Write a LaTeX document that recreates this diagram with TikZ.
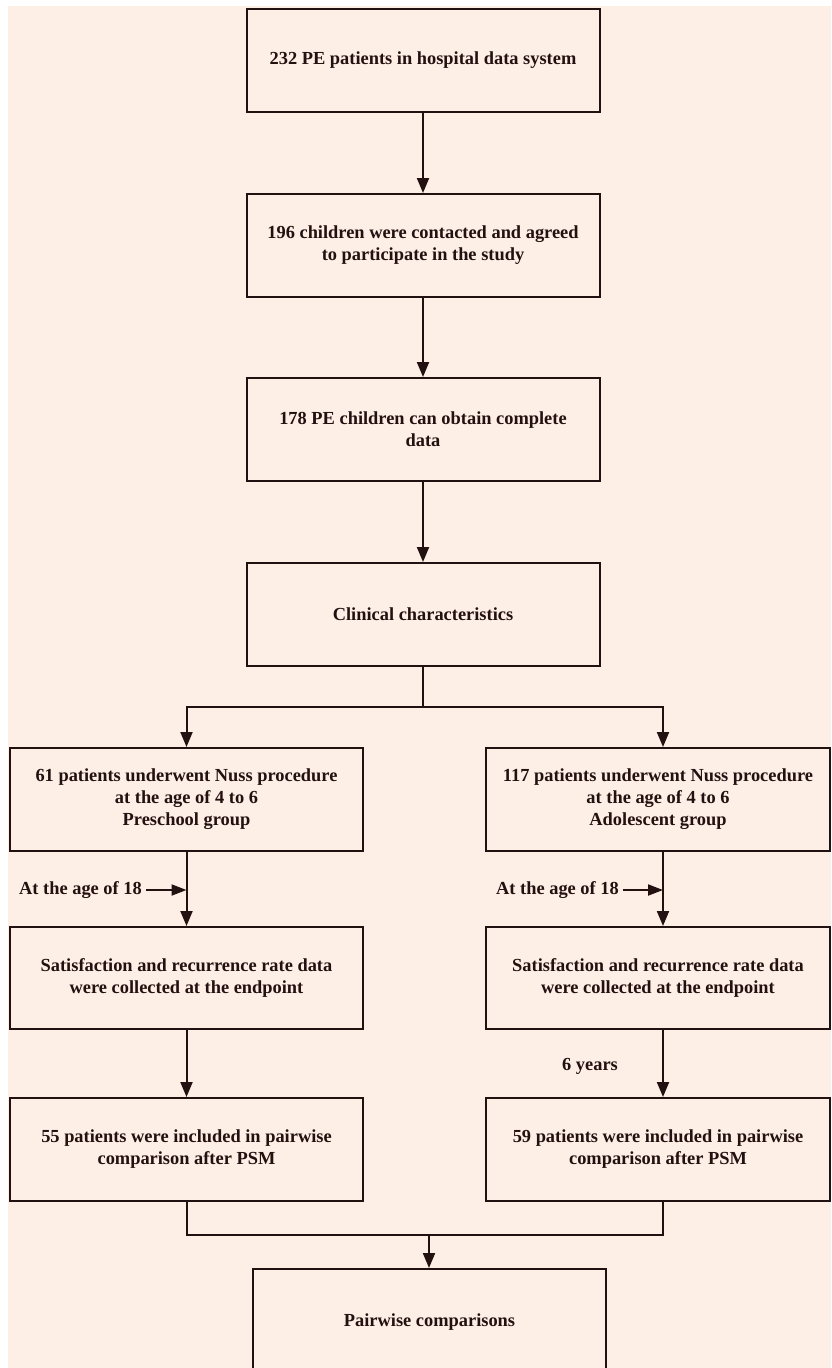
\documentclass[tikz,border=0pt]{standalone}
\usepackage{fontspec}
\setmainfont{Liberation Serif}
\usetikzlibrary{arrows.meta,calc}
\definecolor{bgc}{HTML}{FEEFE6}
\definecolor{ink}{HTML}{231010}
\begin{document}
\begin{tikzpicture}[x=1pt,y=-1pt,
  box/.style={draw=ink, line width=2pt, fill=bgc, align=center, inner sep=0pt,
    font=\fontsize{18.4}{22}\selectfont\bfseries, text=ink},
  wide/.style={minimum width=353pt, minimum height=103pt},
  arr/.style={draw=ink, line width=2pt, -{Triangle[length=15pt,width=12pt]}},
  sarr/.style={draw=ink, line width=2pt, -{Triangle[length=15pt,width=11pt]}},
  ln/.style={draw=ink, line width=2pt},
  lbl/.style={font=\fontsize{18.4}{22}\selectfont\bfseries, text=ink, inner sep=0pt}]
\useasboundingbox (0,0) rectangle (831,1368);
\fill[white] (0,0) rectangle (831,1368);
\fill[bgc] (8,6) rectangle (831,1368);

\node[box, wide] (b1) at (423,60.5) {232 PE patients in hospital data system};
\node[box, wide] (b2) at (423,245.5) {196 children were contacted and agreed\\to participate in the study};
\node[box, wide] (b3) at (423,429.5) {178 PE children can obtain complete\\data};
\node[box, wide] (b4) at (423,614.5) {Clinical characteristics};

\node[box, wide] (b5L) at (186.5,799.5) {61 patients underwent Nuss procedure\\at the age of 4 to 6\\Preschool group};
\node[box, minimum width=344pt, minimum height=103pt] (b5R) at (658,799.5) {117 patients underwent Nuss procedure\\at the age of 4 to 6\\Adolescent group};

\node[box, wide, minimum height=102pt] (b6L) at (186.5,978) {Satisfaction and recurrence rate data\\were collected at the endpoint};
\node[box, minimum width=344pt, minimum height=102pt] (b6R) at (658,978) {Satisfaction and recurrence rate data\\were collected at the endpoint};

\node[box, wide] (b7L) at (186.5,1149.5) {55 patients were included in pairwise\\comparison after PSM};
\node[box, minimum width=344pt, minimum height=103pt] (b7R) at (658,1149.5) {59 patients were included in pairwise\\comparison after PSM};

\node[box, minimum width=353pt, minimum height=106pt] (b8) at (429.5,1322) {Pairwise comparisons};

\coordinate (rx) at (663,0);
\coordinate (sp) at (423,707);
\coordinate (mg) at (429,1235);

\draw[arr] (b1) -- (b2);
\draw[arr] (b2) -- (b3);
\draw[arr] (b3) -- (b4);
\draw[ln] (b4.south) -- (sp);
\draw[arr] (sp) -| (b5L.north);
\draw[arr] (sp) -| (b5R.north -| rx);

\draw[arr] (b5L.south) -- (b6L.north);
\draw[arr] (b5R.south -| rx) -- (b6R.north -| rx);

\node[lbl, anchor=east] (ageL) at (142,890) {At the age of 18};
\node[lbl, anchor=east] (ageR) at (619,890) {At the age of 18};
\draw[sarr] (ageL.east) ++(4,0) -- (ageL.east -| b5L.south);
\draw[sarr] (ageR.east) ++(4,0) -- (ageR.east -| rx);

\draw[arr] (b6L.south) -- (b7L.north);
\draw[arr] (b6R.south -| rx) -- (b7R.north -| rx);
\node[lbl] (yrs) at (590,1066) {6 years};

\draw[ln] (b7L.south) |- (mg);
\draw[ln] (b7R.south -| rx) |- (mg);
\draw[arr] (mg) -- (b8.north -| mg);
\end{tikzpicture}
\end{document}
